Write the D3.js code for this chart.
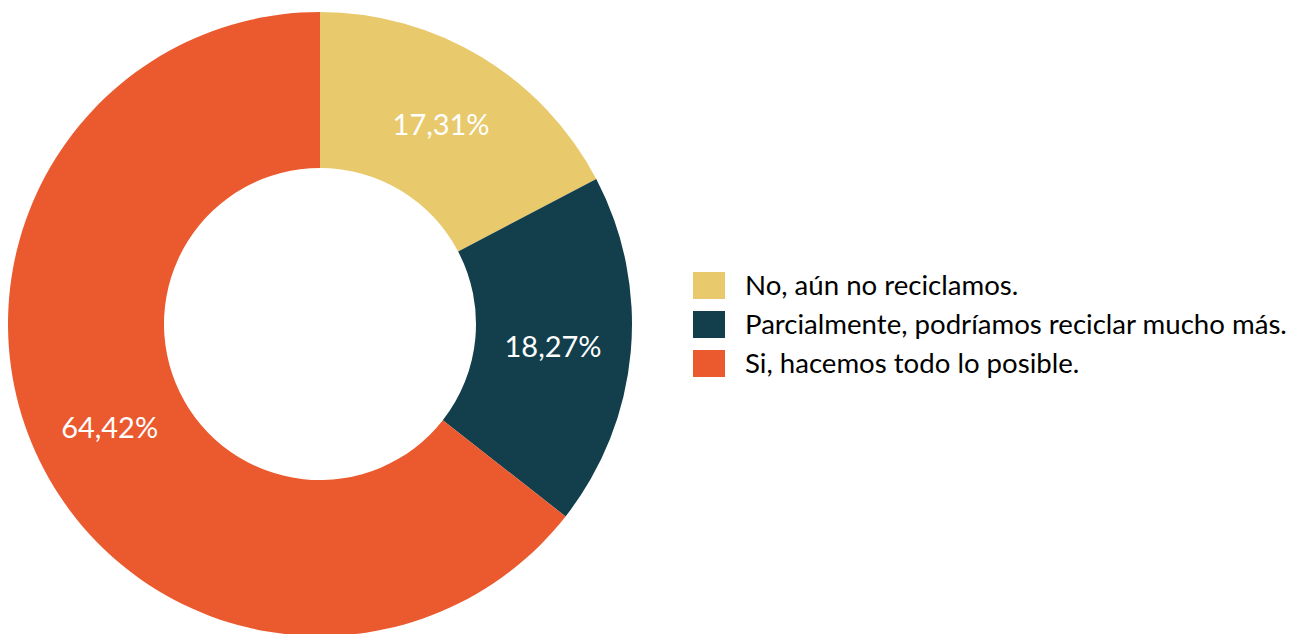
<!DOCTYPE html>
<html><head><meta charset="utf-8">
<script src="https://cdn.jsdelivr.net/npm/d3@7"></script>
<style>html,body{margin:0;padding:0;background:#fff;}svg{display:block;}</style>
</head><body>
<svg id="c" width="1299" height="634"></svg>
<script>
const categories = ["No, aún no reciclamos.", "Parcialmente, podríamos reciclar mucho más.", "Si, hacemos todo lo posible."];
const values = [17.31, 18.27, 64.42];
const labels = ["17,31%", "18,27%", "64,42%"];
const colors = ["#E8C96C", "#133F4D", "#EB5A2E"];

const svg = d3.select("#c");
const cx = 320, cy = 324, rOuter = 312, rInner = 156;
const FONT = "Lato, 'Open Sans', sans-serif";

const pie = d3.pie().sort(null).value(d => d)(values);
const arc = d3.arc().innerRadius(rInner).outerRadius(rOuter);
const g = svg.append("g").attr("transform", `translate(${cx},${cy})`);
g.selectAll("path").data(pie).join("path")
  .attr("d", arc).attr("fill", (d, i) => colors[i]);

const labArc = d3.arc().innerRadius(rInner).outerRadius(rOuter);
const lt = g.selectAll("text.lab").data(pie).join("text")
  .attr("class", "lab")
  .attr("x", d => labArc.centroid(d)[0])
  .attr("y", d => labArc.centroid(d)[1])
  .attr("text-anchor", "middle")
  .attr("dominant-baseline", "central")
  .attr("fill", "#fff")
  .style("font-family", FONT)
  .style("font-size", "26px")
  .text((d, i) => labels[i]);
// fit label width to ~97px
lt.each(function() {
  const w = this.getComputedTextLength();
  d3.select(this).style("font-size", (26 * 97 / w) + "px");
});

const lg = svg.append("g").attr("transform", "translate(693,272)");
const rows = lg.selectAll("g").data(categories).join("g")
  .attr("transform", (d, i) => `translate(0,${i * 39})`);
rows.append("rect").attr("width", 32).attr("height", 27).attr("fill", (d, i) => colors[i]);
const tt = rows.append("text").attr("x", 52).attr("y", 23)
  .attr("fill", "#000")
  .style("font-family", FONT).style("font-size", "26px")
  .text(d => d);
const w1 = tt.nodes()[1].getComputedTextLength();
tt.style("font-size", (26 * 542 / w1) + "px");
</script>
</body></html>
